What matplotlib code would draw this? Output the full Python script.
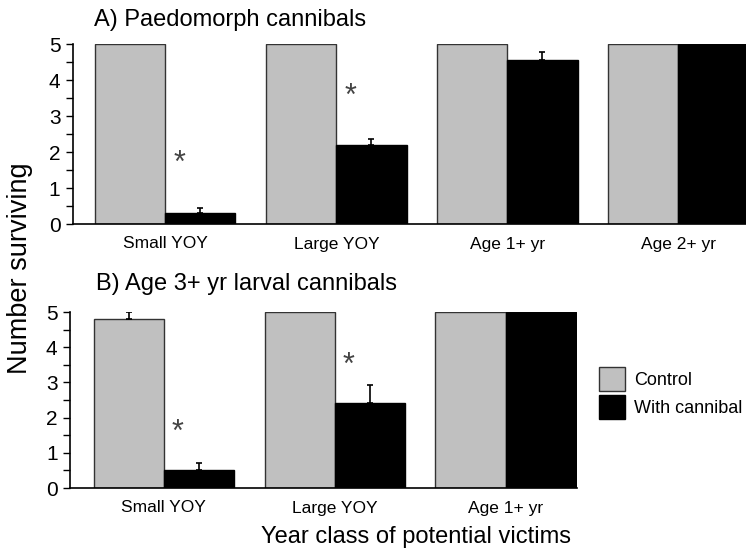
import numpy as np
import matplotlib.pyplot as plt
from matplotlib.patches import Patch
from matplotlib.ticker import MultipleLocator

plt.rcParams['font.family'] = ['Liberation Sans', 'DejaVu Sans']

# Panel A: paedomorph cannibals
cats_a = ['Small YOY', 'Large YOY', 'Age 1+ yr', 'Age 2+ yr']
control_a = [5.0, 5.0, 5.0, 5.0]
control_a_err = [0.0, 0.0, 0.0, 0.0]
cannibal_a = [0.3, 2.2, 4.55, 5.0]
cannibal_a_err = [0.15, 0.17, 0.24, 0.0]
star_a = [1.67, 3.53, None, None]

# Panel B: age 3+ yr larval cannibals
cats_b = ['Small YOY', 'Large YOY', 'Age 1+ yr']
control_b = [4.8, 5.0, 5.0]
control_b_err = [0.2, 0.0, 0.0]
cannibal_b = [0.52, 2.42, 5.0]
cannibal_b_err = [0.2, 0.5, 0.0]
star_b = [1.57, 3.47, None]

W, H = 746, 552
fig = plt.figure(figsize=(W / 100, H / 100), dpi=100)

# axes placed in pixel coordinates of the reference
ax_a = fig.add_axes([73 / W, 1 - 224 / H, (W - 73) / W, 180 / H])
ax_b = fig.add_axes([70 / W, 1 - 488 / H, (577 - 70) / W, 176 / H])

bw = 0.41
gray = '#c0c0c0'


def upper_err(ax, xs, vals, errs):
    # only the upper half of the error bar, skip zero errors
    for xi, v, e in zip(xs, vals, errs):
        if e > 0:
            ax.errorbar(xi, v, yerr=[[0], [e]], fmt='none', ecolor='black',
                        elinewidth=1.2, capthick=1.2, capsize=2.5, zorder=3)


def draw(ax, cats, ctrl, ctrl_err, cann, cann_err, stars, xlim):
    x = np.arange(len(cats))
    ax.bar(x - bw / 2, ctrl, bw, color=gray, edgecolor='#333333', linewidth=1,
           zorder=2)
    ax.bar(x + bw / 2, cann, bw, color='black', edgecolor='black', linewidth=1,
           zorder=2)
    upper_err(ax, x - bw / 2, ctrl, ctrl_err)
    upper_err(ax, x + bw / 2, cann, cann_err)
    for xi, s in zip(x, stars):
        if s is not None:
            ax.text(xi + 0.08, s, '*', ha='center', va='center', fontsize=22,
                    color='#444444')
    ax.set_xlim(*xlim)
    ax.set_ylim(0, 5)
    ax.set_xticks(x)
    ax.set_xticklabels(cats, fontsize=12.5)
    ax.tick_params(axis='x', length=0, pad=9)
    ax.yaxis.set_major_locator(MultipleLocator(1))
    ax.yaxis.set_minor_locator(MultipleLocator(0.5))
    ax.tick_params(axis='y', which='both', direction='out', length=5,
                   width=1, labelsize=15, pad=4)
    for side in ['top', 'right']:
        ax.spines[side].set_visible(False)
    ax.spines['left'].set_linewidth(1.2)
    ax.spines['bottom'].set_linewidth(1.2)


draw(ax_a, cats_a, control_a, control_a_err, cannibal_a, cannibal_a_err, star_a,
     (-0.54, 3.395))
draw(ax_b, cats_b, control_b, control_b_err, cannibal_b, cannibal_b_err, star_b,
     (-0.548, 2.418))

fig.text(94 / W, 1 - 20 / H, 'A) Paedomorph cannibals', fontsize=17,
         ha='left', va='center')
fig.text(96 / W, 1 - 284 / H, 'B) Age 3+ yr larval cannibals', fontsize=17,
         ha='left', va='center')
fig.text(20 / W, 1 - 268 / H, 'Number surviving', fontsize=19.5, rotation=90,
         ha='center', va='center')
fig.text(416 / W, 1 - 537 / H, 'Year class of potential victims', fontsize=17,
         ha='center', va='center')

handles = [Patch(facecolor=gray, edgecolor='#333333', label='Control'),
           Patch(facecolor='black', edgecolor='black', label='With cannibal')]
fig.legend(handles=handles, loc='center left', bbox_to_anchor=(599 / W, 1 - 393 / H),
           frameon=False, fontsize=13, handlelength=1.45, handleheight=1.65,
           handletextpad=0.5, labelspacing=0.2, borderaxespad=0, borderpad=0)

fig.savefig('out.png', dpi=100)
